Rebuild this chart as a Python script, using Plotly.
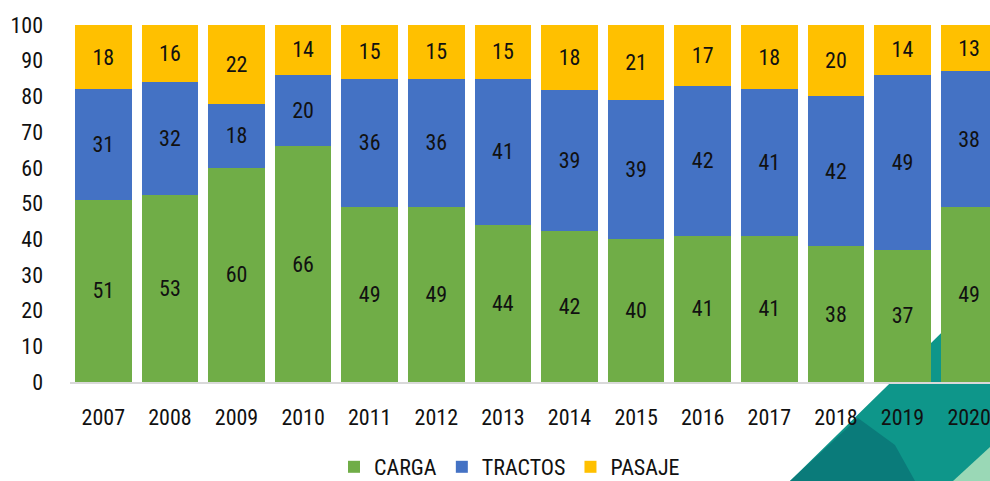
import plotly.graph_objects as go

years = ["2007", "2008", "2009", "2010", "2011", "2012", "2013", "2014",
         "2015", "2016", "2017", "2018", "2019", "2020"]
carga = [51, 53, 60, 66, 49, 49, 44, 42, 40, 41, 41, 38, 37, 49]
tractos = [31, 32, 18, 20, 36, 36, 41, 39, 39, 42, 41, 42, 49, 38]
pasaje = [18, 16, 22, 14, 15, 15, 15, 18, 21, 17, 18, 20, 14, 13]

FONT = "Roboto Condensed, Liberation Sans Narrow, Roboto, sans-serif"
W, H = 990, 481
L, R, T, B = 70, 0, 25, 99
PW, PH = W - L - R, H - T - B


def px(x):
    return (x - L) / PW


def py(y):
    return (H - B - y) / PH


series = [("CARGA", carga, "#70AD47"), ("TRACTOS", tractos, "#4472C4"),
          ("PASAJE", pasaje, "#FFC000")]

fig = go.Figure()
for name, vals, col in series:
    fig.add_trace(go.Bar(
        x=years, y=vals, name=name, marker=dict(color=col, line=dict(width=0)),
        text=[str(v) for v in vals], textposition="inside",
        insidetextanchor="middle", textangle=0,
        textfont=dict(family=FONT, size=22, color="#111111"),
    ))


def poly(pts, color):
    d = "M " + " L ".join(f"{px(a):.4f},{py(b):.4f}" for a, b in pts) + " Z"
    return dict(type="path", xref="paper", yref="paper", path=d,
                fillcolor=color, line=dict(width=0), layer="below")


shapes = [
    poly([(790, 481), (931, 343), (990, 285), (990, 481)], "#0E968A"),
    poly([(790, 481), (858, 418), (895, 445), (915, 481)], "#0A7B7A"),
    poly([(953, 481), (990, 447), (990, 481)], "#9AD8B6"),
]

fig.update_layout(
    width=W, height=H, margin=dict(l=L, r=R, t=T, b=B, autoexpand=False),
    barmode="stack", barnorm="percent", bargap=0.15,
    paper_bgcolor="white", plot_bgcolor="rgba(0,0,0,0)",
    font=dict(family=FONT, size=22, color="#111111"),
    shapes=shapes,
    showlegend=True,
    legend=dict(orientation="h", x=px(334), xanchor="left", y=py(467),
                yanchor="middle", font=dict(family=FONT, size=22),
                traceorder="normal", itemwidth=30),
    xaxis=dict(range=[-0.5, -0.5 + PW / 66.6], showgrid=False, showline=True,
               linecolor="#D9D9D9", linewidth=2, ticks="", ticklabelstandoff=15,
               tickfont=dict(family=FONT, size=22)),
    yaxis=dict(range=[0, 100], dtick=10, tick0=0, showgrid=False, showline=False,
               zeroline=False, ticks="", ticklabelstandoff=26,
               tickfont=dict(family=FONT, size=22)),
)

fig.write_html(
    "out.html",
    config={"displayModeBar": False},
    post_script="document.body.style.margin='0';document.body.style.overflow='hidden';",
)
